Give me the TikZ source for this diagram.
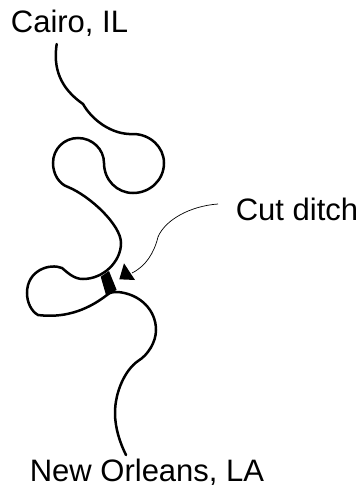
\documentclass[tikz,border=0pt]{standalone}
\usepackage{fontspec}
\setmainfont{Liberation Sans}
\usetikzlibrary{positioning}
\tikzset{
	river/.style={line width=2.5pt, line cap=round},
	place/.style={inner sep=0pt, anchor=base, font=\fontsize{31}{34}\selectfont},
}
\begin{document}
\begin{tikzpicture}[x=1pt, y=-1pt]
	\useasboundingbox (0,0) rectangle (361,487);
	\node[place] (cairo) at (69.5,33) {Cairo, IL};
	\node[place] (ditch) at (297,220) {Cut ditch};
	\node[place] (orleans) at (147,481) {New Orleans, LA};
	\coordinate (top) at (56.7,44);
	\coordinate (bottom) at (126,455);
	\coordinate (ditchend) at (218,204);
	\coordinate (tip) at (132,273);
	
	\draw[river] (top) .. controls (53,68) and (60,88) .. (83,104)
		.. controls (92,120) and (112,135) .. (133,134)
		.. controls (150,134) and (164,147) .. (164,163)
		.. controls (164,180) and (150,193) .. (133,193)
		.. controls (117,193) and (104,180) .. (104,163)
		.. controls (104,149) and (92,138) .. (78,138)
		.. controls (64,138) and (53,149) .. (53,163)
		.. controls (53,174) and (59,184) .. (68,187)
		.. controls (90,196) and (121,225) .. (121,243)
		.. controls (121,262) and (103,279) .. (83,279)
		.. controls (74,279) and (68,273) .. (62,268)
		.. controls (50,263) and (27,270) .. (27,293)
		.. controls (27,302) and (31,311) .. (38,315)
		.. controls (62,318) and (85,312) .. (107,295)
		.. controls (110,292) and (114,292) .. (118,292)
		.. controls (140,294) and (156,310) .. (156,330)
		.. controls (156,342) and (148,355) .. (138,361)
		.. controls (125,370) and (115,392) .. (115,413)
		.. controls (115,428) and (120,443) .. (bottom);
	\fill (100.7,276.7) -- (109,271) -- (116.7,290) -- (106,295) -- cycle;
	\draw[line width=0.7pt] (ditchend) .. controls (190,206) and (165,220) .. (158,237)
		.. controls (154,253) and (146,266) .. (tip);
	\fill (124,263.3) -- (119.3,279.3) -- (135,280) -- cycle;
\end{tikzpicture}
\end{document}
